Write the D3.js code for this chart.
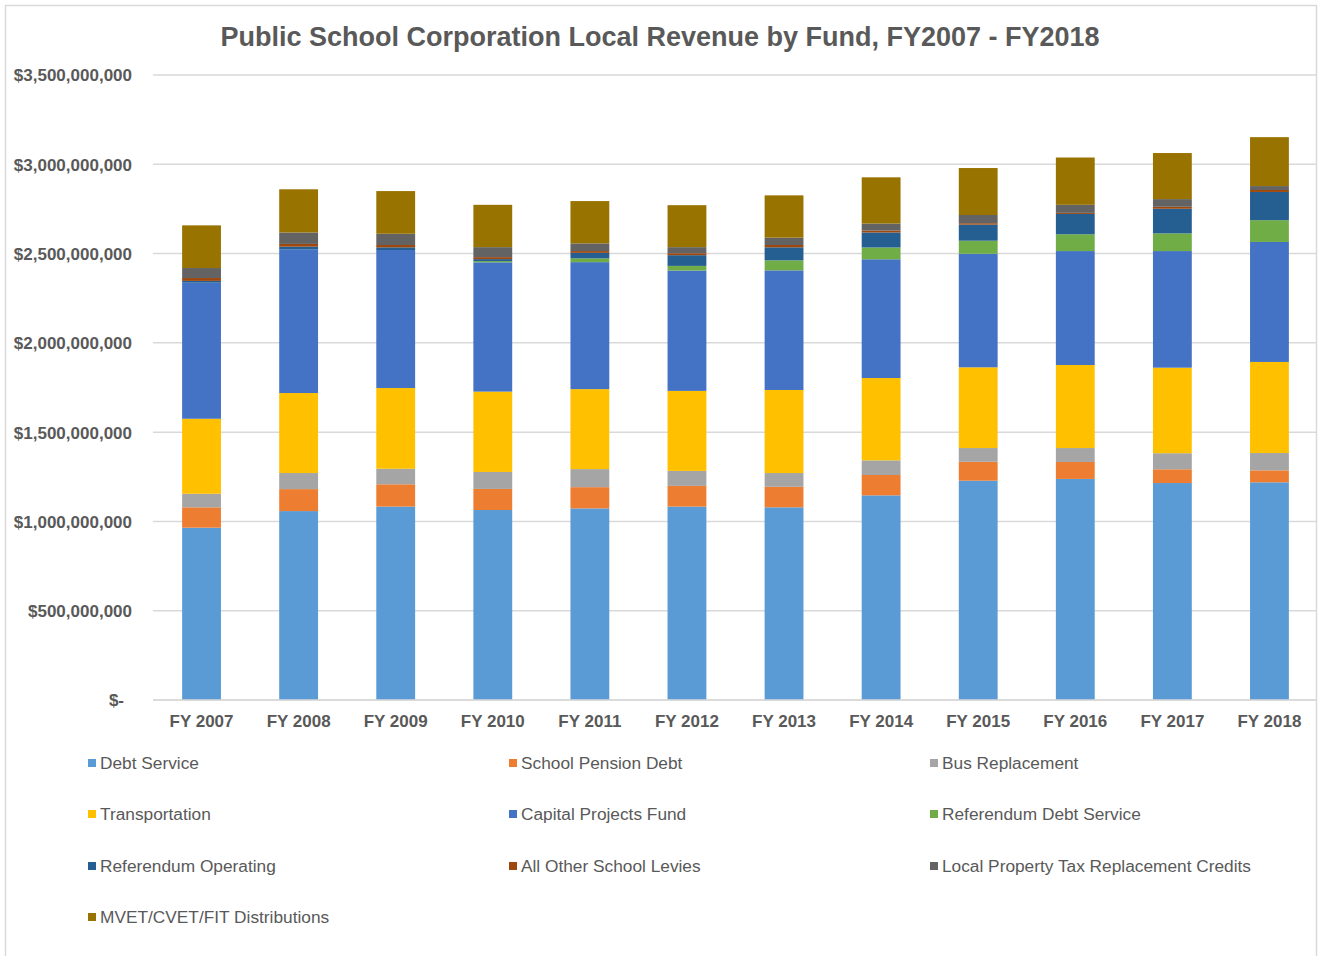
<!DOCTYPE html>
<html>
<head>
<meta charset="utf-8">
<script src="https://cdn.jsdelivr.net/npm/d3@7"></script>
<style>
  body { margin: 0; background: #fff; }
  text { font-family: Arial, "Liberation Sans", sans-serif; }
</style>
</head>
<body>
<svg id="chart" width="1318" height="956"></svg>
<script>
/********************************************************
 ********************* Data *****************************
 ********************************************************/
// values in millions of dollars
var years = ["FY 2007", "FY 2008", "FY 2009", "FY 2010", "FY 2011", "FY 2012",
             "FY 2013", "FY 2014", "FY 2015", "FY 2016", "FY 2017", "FY 2018"];

var debtService      = [965, 1058, 1083, 1064, 1073, 1083, 1079, 1146, 1228, 1238, 1215, 1219];
var pensionDebt      = [114, 123, 125, 118, 119, 116, 115, 114, 106, 95, 77, 67];
var busReplacement   = [76, 90, 87, 95, 101, 84, 77, 82, 77, 78, 90, 97];
var transportation   = [420, 448, 452, 450, 448, 448, 465, 461, 452, 465, 479, 510];
var capitalProjects  = [762, 805, 773, 724, 711, 674, 670, 665, 636, 638, 653, 672];
var refDebtService   = [0, 0, 0, 7, 21, 26, 56, 66, 73, 94, 99, 122];
var refOperating     = [10, 15, 15, 11, 31, 60, 73, 84, 90, 114, 138, 158];
var otherLevies      = [16, 15, 13, 11, 10, 11, 13, 11, 8, 6, 11, 11];
var lptrc            = [56, 64, 63, 56, 43, 34, 41, 39, 46, 45, 43, 22];
var mvet             = [239, 242, 239, 237, 237, 235, 237, 259, 263, 265, 258, 274];

var seriesNames = ["Debt Service", "School Pension Debt", "Bus Replacement",
                   "Transportation", "Capital Projects Fund", "Referendum Debt Service",
                   "Referendum Operating", "All Other School Levies",
                   "Local Property Tax Replacement Credits", "MVET/CVET/FIT Distributions"];
var seriesValues = [debtService, pensionDebt, busReplacement, transportation, capitalProjects,
                    refDebtService, refOperating, otherLevies, lptrc, mvet];
var seriesColors = ["#5b9bd5", "#ed7d31", "#a5a5a5", "#ffc000", "#4472c4",
                    "#70ad47", "#255e91", "#9e480e", "#636363", "#997300"];

var yTicks = [0, 500e6, 1000e6, 1500e6, 2000e6, 2500e6, 3000e6, 3500e6];

/********************************************************
 ********************* Chart ****************************
 ********************************************************/
var svg = d3.select("#chart");

// build rows for the stack
var rows = years.map(function(y, i) {
  var row = { year: y };
  seriesNames.forEach(function(name, k) {
    row[name] = seriesValues[k][i] * 1e6;
  });
  return row;
});

var stacked = d3.stack().keys(seriesNames)(rows);

var xScale = d3.scaleBand().domain(years).range([153, 1318]).paddingInner(0.6).paddingOuter(0.3),
    yScale = d3.scaleLinear().domain([0, 3500e6]).range([700, 75]);

// outer frame
svg.append("rect")
  .attr("x", 5.5).attr("y", 5.5)
  .attr("width", 1311).attr("height", 980)
  .attr("fill", "#fff")
  .attr("stroke", "#d9d9d9")
  .attr("stroke-width", 1.5);

// title
svg.append("text")
  .attr("x", 660).attr("y", 46)
  .attr("text-anchor", "middle")
  .attr("font-size", 27)
  .attr("font-weight", "bold")
  .attr("fill", "#595959")
  .text("Public School Corporation Local Revenue by Fund, FY2007 - FY2018");

// gridlines
svg.append("g")
  .selectAll("line")
  .data(yTicks)
  .enter()
  .append("line")
  .attr("x1", 153).attr("x2", 1316)
  .attr("y1", function(d) { return yScale(d); })
  .attr("y2", function(d) { return yScale(d); })
  .attr("stroke", "#d9d9d9")
  .attr("stroke-width", 1.5);

// y axis labels
var yAxis = svg.append("g")
  .attr("transform", "translate(132,0)")
  .call(d3.axisLeft(yScale)
    .tickValues(yTicks)
    .tickSize(0)
    .tickPadding(0)
    .tickFormat(function(d) {
      return d === 0 ? "$-" : "$" + d3.format(",")(d);
    }));
yAxis.select(".domain").remove();
yAxis.selectAll("text")
  .attr("font-size", 17)
  .attr("font-weight", "bold")
  .attr("fill", "#595959")
  .attr("dy", "0.35em")
  .attr("x", function(d) { return d === 0 ? -8 : 0; });

// bars
svg.append("g")
  .selectAll("g")
  .data(stacked)
  .enter()
  .append("g")
  .attr("fill", function(d, i) { return seriesColors[i]; })
  .selectAll("rect")
  .data(function(d) { return d; })
  .enter()
  .append("rect")
  .attr("x", function(d) { return xScale(d.data.year); })
  .attr("width", xScale.bandwidth())
  .attr("y", function(d) { return yScale(d[1]); })
  .attr("height", function(d) { return yScale(d[0]) - yScale(d[1]); });

// x axis
var xAxis = svg.append("g")
  .attr("transform", "translate(0,700)")
  .call(d3.axisBottom(xScale).tickSize(0).tickPadding(15));
xAxis.select(".domain")
  .attr("stroke", "#d9d9d9")
  .attr("stroke-width", 1.5)
  .attr("d", "M153,0H1316");
xAxis.selectAll("text")
  .attr("font-size", 17)
  .attr("font-weight", "bold")
  .attr("fill", "#595959");

/********************************************************
 ********************* Legend ***************************
 ********************************************************/
var legendX = [88, 509, 930],
    legendY = [763, 814, 866, 917];

var legend = svg.append("g")
  .selectAll("g")
  .data(seriesNames)
  .enter()
  .append("g")
  .attr("transform", function(d, i) {
    return "translate(" + legendX[i % 3] + "," + legendY[Math.floor(i / 3)] + ")";
  });

legend.append("rect")
  .attr("x", 0).attr("y", -4)
  .attr("width", 8).attr("height", 8)
  .attr("fill", function(d, i) { return seriesColors[i]; });

legend.append("text")
  .attr("x", 12)
  .attr("dy", "0.35em")
  .attr("font-size", 17.3)
  .attr("fill", "#595959")
  .text(function(d) { return d; });
</script>
</body>
</html>
